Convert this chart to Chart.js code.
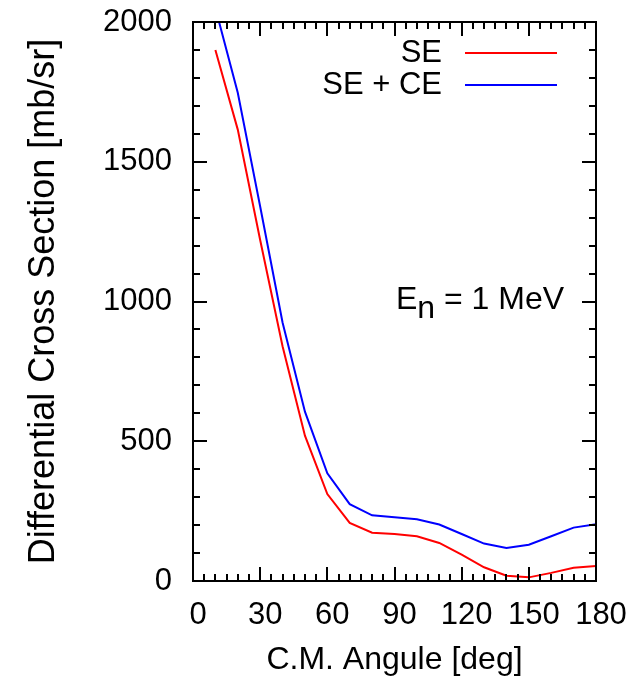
<!DOCTYPE html>
<html>
<head>
<meta charset="utf-8">
<script src="https://cdn.jsdelivr.net/npm/chart.js@4"></script>
<style>
  html, body { margin: 0; padding: 0; background: #fff; }
</style>
</head>
<body>
<canvas id="xsChart" width="643" height="680"></canvas>
<script>
// angles (deg) and cross sections (mb/sr)
const angles = [10, 20, 30, 40, 50, 60, 70, 80, 90, 100, 110, 120, 130, 140, 150, 160, 170, 180];
const seValues = [1900, 1615, 1220, 840, 520, 311, 208, 173, 168, 160, 136, 94, 49, 19, 13, 29, 47, 54];
const seCeValues = [2050, 1747, 1340, 925, 606, 385, 275, 235, 228, 221, 202, 168, 134, 118, 130, 160, 191, 203];

const xTicks = [0, 30, 60, 90, 120, 150, 180];
const yTicks = [0, 500, 1000, 1500, 2000];
const xMinorStep = 5;
const yMinorStep = 100;

const FONT = "'Liberation Sans', Arial, Helvetica, sans-serif";

const toPoints = (xs, ys) => xs.map((x, i) => ({ x: x, y: ys[i] }));

// gnuplot style frame: border, inward ticks on all sides, key and label
const gnuplotFrame = {
  id: 'gnuplotFrame',
  afterDatasetsDraw(chart) {
    const ctx = chart.ctx;
    const area = chart.chartArea;
    const xs = chart.scales.x;
    const ys = chart.scales.y;
    ctx.save();
    ctx.strokeStyle = '#000';
    ctx.lineWidth = 2;
    ctx.strokeRect(area.left, area.top, area.right - area.left, area.bottom - area.top);

    ctx.beginPath();
    for (let v = xs.min; v <= xs.max; v += xMinorStep) {
      const len = xTicks.includes(v) ? 14 : 7;
      const px = Math.round(xs.getPixelForValue(v));
      ctx.moveTo(px, area.bottom);
      ctx.lineTo(px, area.bottom - len);
      ctx.moveTo(px, area.top);
      ctx.lineTo(px, area.top + len);
    }
    for (let v = ys.min; v <= ys.max; v += yMinorStep) {
      const len = yTicks.includes(v) ? 14 : 7;
      const py = Math.round(ys.getPixelForValue(v));
      ctx.moveTo(area.left, py);
      ctx.lineTo(area.left + len, py);
      ctx.moveTo(area.right, py);
      ctx.lineTo(area.right - len, py);
    }
    ctx.stroke();

    // key
    ctx.font = '31px ' + FONT;
    ctx.fillStyle = '#000';
    ctx.textAlign = 'right';
    ctx.textBaseline = 'middle';
    chart.data.datasets.forEach((ds, i) => {
      const y = area.top + 31 + i * 32;
      ctx.fillText(ds.label, area.right - 154, y);
      ctx.strokeStyle = ds.borderColor;
      ctx.lineWidth = 2;
      ctx.beginPath();
      ctx.moveTo(area.right - 131, y);
      ctx.lineTo(area.right - 39, y);
      ctx.stroke();
    });

    // E_n = 1 MeV
    ctx.font = '32px ' + FONT;
    ctx.textAlign = 'left';
    ctx.textBaseline = 'alphabetic';
    let x = 396;
    const base = 309;
    ctx.fillText('E', x, base);
    x += ctx.measureText('E').width;
    ctx.fillText('n', x, base + 9);
    x += ctx.measureText('n').width;
    ctx.fillText(' = 1 MeV', x, base);
    ctx.restore();
  }
};

new Chart(document.getElementById('xsChart'), {
  type: 'line',
  data: {
    datasets: [
      {
        label: 'SE',
        data: toPoints(angles, seValues),
        borderColor: '#ff0000',
        borderWidth: 2,
        pointRadius: 0,
        tension: 0,
        fill: false
      },
      {
        label: 'SE + CE',
        data: toPoints(angles, seCeValues),
        borderColor: '#0000ff',
        borderWidth: 2,
        pointRadius: 0,
        tension: 0,
        fill: false
      }
    ]
  },
  options: {
    responsive: false,
    animation: false,
    devicePixelRatio: 1,
    layout: { padding: { top: 22, right: 47, left: 0, bottom: 0 } },
    plugins: {
      legend: { display: false },
      tooltip: { enabled: false }
    },
    scales: {
      x: {
        type: 'linear',
        min: 0,
        max: 180,
        afterBuildTicks: s => { s.ticks = xTicks.map(v => ({ value: v })); },
        afterFit: s => { s.height = 99; s.paddingLeft = 0; s.paddingRight = 0; },
        grid: { display: false },
        border: { display: false },
        ticks: {
          color: '#000',
          font: { family: FONT, size: 31 },
          padding: 8,
          labelOffset: 5,
          maxRotation: 0,
          autoSkip: false,
          callback: v => String(v)
        },
        title: {
          display: true,
          text: 'C.M. Angule [deg]',
          color: '#000',
          font: { family: FONT, size: 32 },
          padding: { top: 0, bottom: 1 }
        }
      },
      y: {
        type: 'linear',
        min: 0,
        max: 2000,
        afterBuildTicks: s => { s.ticks = yTicks.map(v => ({ value: v })); },
        afterFit: s => { s.width = 193; s.paddingTop = 0; s.paddingBottom = 0; },
        grid: { display: false },
        border: { display: false },
        ticks: {
          color: '#000',
          font: { family: FONT, size: 31 },
          padding: 13,
          callback: v => String(v)
        },
        title: {
          display: true,
          text: 'Differential Cross Section [mb/sr]',
          color: '#000',
          font: { family: FONT, size: 36 },
          padding: { top: 22, bottom: 0 }
        }
      }
    }
  },
  plugins: [gnuplotFrame]
});
</script>
</body>
</html>
